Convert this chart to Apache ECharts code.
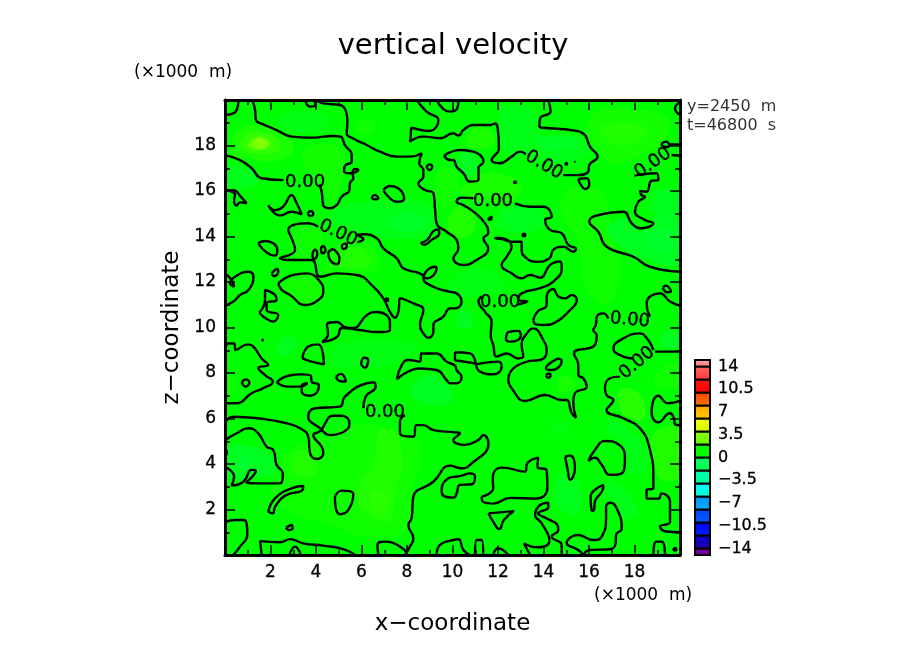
<!DOCTYPE html>
<html>
<head>
<meta charset="utf-8">
<title>vertical velocity</title>
<script src="https://cdn.jsdelivr.net/npm/echarts@6/dist/echarts.min.js"></script>
<style>
html,body{margin:0;padding:0;background:#fff}
#chart{width:904px;height:654px}
</style>
</head>
<body>
<div id="chart"></div>
<script>
// colour bar
var barLow = [-15,-14,-12,-10,-8,-6,-4,-2,0,2,4,6,8,10,12,14];
var barHigh = [-14,-12,-10,-8,-6,-4,-2,0,2,4,6,8,10,12,14,15];
var barColorLow = ['#6a009a','#2a00a0','#0020ff','#0060ff','#00b0ff','#00ffd0','#00ff90','#00ff48','#00ff00','#60ff00','#d0ff00','#ffd000','#ff7800','#ff0000','#ff3838','#ff8080'];
var barColorHigh = ['#7a00a8','#0000d8','#0000ff','#0040ff','#0090ff','#00ffff','#00ffb8','#00ff70','#00ff00','#90ff00','#f8ff00','#ffa000','#ff4000','#ff1010','#ff6868','#ff9c9c'];
var barTicks = [-14,-10.5,-7,-3.5,0,3.5,7,10.5,14];

// filled bands of the field: level of each patch, then its outline (x, z in km)
var patchLevels = [
	0.8,1.4,2,2.6,0.6,0.5,1,0.5,0.6,0.5,0.4,0.8,0.8,1,0.6,1,0.5,
	0.5,1,1.3,1,1.2,1,0.7,0.5,0.5,
	-0.6,-0.8,-0.7,-1.2,-0.6,-0.8,-1,-1.5,-1,-0.7,-1.1,-1,-1,-1.4,-0.8,-0.8,-1,-0.5,-1,-0.7,-0.7,-0.8,-0.5
];
var patchRings = [
	[[0.3,17.6],[1.2,17.4],[2.2,17.3],[3,17.8],[2.8,18.5],[1.6,18.9],[0.5,18.6]],
	[[0.7,17.9],[1.5,17.6],[2.4,17.8],[2.2,18.4],[1.3,18.6],[0.8,18.4]],
	[[1,18],[1.6,17.8],[2,18.1],[1.5,18.4]],
	[[1.3,18],[1.7,17.9],[1.8,18.2],[1.4,18.3]],
	[[3.4,17.8],[4.9,18],[5.3,17.2],[5,16],[4.7,15.5],[4.3,16],[3.6,17]],
	[[4.4,12.3],[5.6,12.2],[6.8,12.7],[6.4,13.6],[5.2,13.8],[4.6,13.2]],
	[[4.9,12.8],[5.6,12.6],[6.4,12.9],[6,13.5],[5.2,13.4]],
	[[2.9,13.2],[4,13.2],[4.2,14.2],[3.2,14.5]],
	[[2.5,11.6],[3.4,11],[4.2,11.3],[4.1,12.1],[3.2,12.3]],
	[[9.2,15.3],[10,15.5],[10.2,16.8],[9.4,17]],
	[[5.8,18.6],[6.4,18.5],[6.6,19],[6,19.1]],
	[[10.6,18],[11.5,17.9],[11.9,18.3],[11.4,18.8],[10.8,18.6]],
	[[10.3,15.8],[12.5,15.5],[13,16.2],[12,16.8],[11,16.6]],
	[[9.9,14],[10.8,14.1],[11,14.8],[10.5,15.4],[9.9,15]],
	[[15.9,18.8],[16.4,19.5],[18,19.6],[19.5,19.2],[19.3,18.2],[18.2,17.5],[17,17.2],[16.5,17.6]],
	[[16.5,18.8],[18,19],[18.5,18.5],[17.3,18]],
	[[15,16],[16.5,16],[17,14.5],[17.4,13],[17.2,11.5],[16.5,11],[15.8,12],[15.5,13.8],[14.8,15]],
	[[2.7,4.5],[4.5,5.3],[6,5.8],[7.6,5.4],[8.6,4.8],[8.2,2.6],[8.1,1.2],[6.2,0.8],[4.5,1.4],[3,1.8],[2,2.6],[2.4,3.6]],
	[[6.4,1.7],[7.2,1.5],[7.5,2.8],[7.8,4],[7.5,5.4],[6.8,5.4],[6.5,4],[5.9,3],[5.9,2.2]],
	[[6.5,1.9],[7,1.9],[7.1,2.6],[6.5,2.8]],
	[[3,3.6],[3.9,3.5],[4,4.2],[3.2,4.6]],
	[[17.3,6.6],[17.4,7.3],[18.2,7.1],[18.5,6.2],[18.2,5.9],[17.6,6.1]],
	[[18.7,5.1],[19.5,5.7],[20,5.5],[20,3.5],[19.2,3.3],[18.8,4.2]],
	[[14.6,7.3],[15.2,7.2],[15.4,7.6],[14.9,7.9]],
	[[0,7],[0.4,7.1],[0.4,7.7],[0,7.9]],
	[[18.9,7.5],[20,7.4],[20,8.3],[19.2,8.3]],
	[[2.3,18.9],[3,18.6],[4.2,18.7],[4.6,19.2],[3.6,19.5],[2.6,19.4]],
	[[0,16.2],[1.4,16.3],[1.2,16.9],[0.4,17.2],[0,17]],
	[[4.6,14.8],[6,14.2],[8,13.9],[9.2,14.1],[9.2,15.2],[8,15.6],[6,15.5],[5,15.3]],
	[[7.2,14.4],[8.6,14.3],[8.8,14.9],[7.6,15]],
	[[4.7,8.4],[6,8.2],[7.5,8.5],[8.5,9.2],[7,9.4],[5,9.2]],
	[[2.3,8.8],[3,8.9],[3.1,9.5],[2.4,9.5]],
	[[0.1,3.5],[1.2,3.4],[2.2,3.6],[2,4.4],[1,4.8],[0.1,4.7]],
	[[0.6,3.9],[1.2,3.9],[1.2,4.3],[0.7,4.4]],
	[[8.1,7.2],[9,6.6],[10,6.8],[9.8,7.5],[8.8,7.9]],
	[[12,18.8],[12.2,19.7],[13.5,19.6],[14,18.4],[15.5,18.4],[16,17.6],[14.5,17.2],[13,17.5],[12.3,17.8]],
	[[13.7,17.9],[15.3,17.9],[15.4,18.3],[14,18.4]],
	[[10.2,17],[10.9,16.7],[11.1,17.4],[10.5,17.7]],
	[[16.8,14.3],[17.6,13.4],[18.8,12.9],[20,12.8],[20,14.5],[19.2,15.2],[18.3,14.2],[17.5,14.8]],
	[[18.6,13.6],[19.6,13.4],[19.7,14.1],[18.9,14.3]],
	[[18.7,15.2],[20,15],[20,16],[19,16]],
	[[12,14.4],[13.8,14.3],[14,15.2],[12.4,15.3]],
	[[10.2,10.1],[10.8,10],[10.8,10.6],[10.3,10.7]],
	[[9.9,11.5],[11.2,11.4],[12.3,11.7],[11.6,12.5],[10.2,12.4]],
	[[19.2,9.2],[19.8,9.1],[19.9,9.7],[19.3,9.8]],
	[[16.8,6],[17.6,5.6],[18.4,4.8],[18.5,3.8],[17.8,3.6],[17.6,4.8],[16.9,5.4]],
	[[16.8,3.2],[17.7,2.8],[18.1,1.8],[17.5,1.6],[16.9,2.4]],
	[[14.6,2.2],[15.5,1.8],[15.6,3],[15,3.6],[14.5,3.2]],
	[[14.4,5.4],[15.1,5.4],[15.1,5.8],[14.5,5.8]]
];

// zero contour, lines that end at the frame or at a label (x, z in km)
var openLines = [
	[[0,19.34],[0.37,19.41],[0.54,19.63],[0.59,20]],
	[[1.2,20],[1.32,19.56],[1.36,19.12],[1.68,18.93],[2.27,18.68],[2.93,18.39],[3.74,18.34],[4.76,18.42],[5.08,18.39],[5.27,18.02],[5.57,17.58],[5.57,17.29],[5.27,17.11],[5.23,16.88],[5.49,16.78],[5.86,16.92],[5.71,16.97],[5.61,16.78],[5.64,16.56],[5.49,16.34],[5.47,16.04],[5.13,15.75],[4.91,15.38],[4.62,15.24],[4.32,15.38],[4.25,15.97],[4.15,16.29]],
	[[2.57,16.48],[1.61,16.56],[1.17,17],[0.66,17.36],[0,17.58]],
	[[3.52,20],[3.74,19.71],[3.96,19.78],[3.96,20]],
	[[4,20],[4.32,19.85],[5.05,19.78],[5.32,19.49],[5.38,19.05],[5.35,18.53],[5.64,18.31],[6.23,18.02],[6.81,17.73],[7.55,17.51],[8.13,17.51],[8.65,17.66],[8.54,17.22],[8.72,16.92],[8.72,16.63],[8.5,16.34],[8.79,16.04],[9.16,15.9],[9.23,15.24],[9.3,14.58],[9.74,14.21],[10.18,13.85],[10.26,13.48],[10.04,13.04],[10.48,12.75],[11.06,12.97],[11.57,13.48],[11.36,13.92],[11.57,14.14],[11.43,14.58],[10.92,15.09],[10.48,15.38],[10.18,15.53],[10.4,15.71],[10.92,15.68]],
	[[12.75,15.46],[13.41,15.31],[14,15.31],[14.36,14.87],[14.07,14.73],[14.29,14.29],[14.8,14.14],[15.09,13.63],[15.43,13.45],[15.31,13.33],[14.87,13.55],[14.43,13.41],[14.26,13.04],[13.7,12.89],[13.26,13.04],[13.04,13.41],[13.04,13.77],[12.6,13.77],[12.16,13.89],[11.87,13.92],[12.01,13.95],[12.6,13.55],[12.38,13.11],[12.16,12.75],[12.6,12.38],[13.04,12.16],[13.41,12.31],[13.85,12.19],[14.29,12.75],[14.73,12.9],[14.8,12.6],[14.43,12.02],[13.85,11.73],[13.04,11.5],[12.89,11.21],[13.29,11.14],[12.89,11.02]],
	[[11.28,11.36],[11.14,11.14],[11.43,10.69],[11.72,10.26],[11.68,9.67],[11.79,9.23],[11.94,8.72],[12.38,8.86],[12.89,8.64],[13.11,8.72],[13.04,9.23],[13.33,9.82],[13.55,9.96],[13.99,9.45],[14.14,8.94],[13.85,8.57],[13.41,8.53],[12.45,7.69],[12.6,7.33],[13.19,6.77],[14.07,7.03],[14.8,6.81],[15.02,6.81],[15.24,6.23],[15.43,6.04],[15.31,6.74],[15.38,7.11],[15.9,7.4],[15.75,7.77],[15.53,7.91],[15.53,8.35],[15.34,8.86],[16.26,9.23],[16.34,9.67],[16.19,9.89],[16.3,10.11],[16.34,10.47],[16.63,10.62],[16.85,10.4]],
	[[20,10.96],[19.56,11.14],[19.12,11.5],[18.68,11.36],[18.53,11.06],[18.68,10.47]],
	[[17.95,8.64],[17.51,8.72],[17.07,9.08],[17.51,9.52],[18.24,9.74],[18.6,9.45],[18.83,9.01]],
	[[18.9,8.94],[20,8.94]],
	[[17.36,7.84],[16.92,7.77],[16.7,7.33],[16.77,7.03],[17.07,6.81],[16.77,6.37],[17.51,6.01],[18.24,5.57],[18.68,4.62],[18.83,3.37],[18.83,2.93],[18.53,2.85],[18.53,2.48],[19.05,2.48],[19.19,2.71],[19.56,2.34],[19.56,1.46],[19.12,1.25],[19.41,1.03],[20,1]],
	[[20,6.77],[19.48,6.67],[19.05,7],[18.75,6.27],[19.05,5.83],[19.56,6.23],[19.73,6.01],[19.78,5.74],[20,5.71]],
	[[13.41,0],[13.14,0.52],[13.73,0.34],[14.26,0.63],[13.92,1.39],[13.63,1.76],[13.85,2.2],[14.21,2.3],[14.21,2.1],[13.77,1.83],[14.14,1.61],[14.61,1.32],[14.65,1.1],[14.36,0.81],[14.8,0.44],[14.8,0]],
	[[15.75,0],[15.53,0.22],[15.02,0.52],[15.53,0.88],[16.19,0.66],[16.56,0.81],[16.75,1.69],[16.75,2.13],[16.95,2.3],[17.22,2.05],[17.44,1.17],[17.19,0.88],[17.17,0.52],[16.92,0.25],[16.04,0.22],[15.75,0]],
	[[5.82,13.74],[6.08,13.89],[5.82,14.07],[6.08,14.1],[6.67,13.92],[6.96,13.48],[7.55,13.04],[7.84,12.6],[8.57,12.38],[8.86,12.16],[9.3,12.6],[9.23,12.67],[8.72,12.16],[9.16,11.79],[9.89,11.57],[10.18,11.5],[10.4,11.14],[10.11,10.84],[9.89,10.84],[9.6,10.48],[9.16,10.11],[9.16,9.82],[8.94,9.55],[8.72,9.74],[8.57,10.11],[8.72,10.77],[8.28,11.06],[7.69,11.28],[7.62,10.69],[7.47,10.43],[7.25,10.69],[6.96,11.28],[6.52,11.8],[5.79,12.31],[4.91,12.38],[4.18,12.23],[3.81,12.97],[3.08,12.97],[2.42,13.04],[3.08,13.41],[2.93,13.92],[2.78,14.28],[3.66,14.58],[4.1,14.43]],
	[[0,16.04],[0.37,16.04],[0.69,15.75],[0.95,15.46],[0.66,15.5],[0.51,15.36],[0.4,15.6],[0.44,15.85],[0.22,15.97]],
	[[0,12.38],[0.29,12.09],[0.4,11.8],[0.22,11.94],[0.44,12.23],[1.03,12.45],[1.25,12.23],[1.03,11.65],[0.66,11.43],[0.37,11.14],[0,10.96]],
	[[8.43,20],[8.86,19.49],[9.38,19.12],[9.3,18.83],[8.94,18.64],[8.2,18.78],[8.16,18.39],[8.13,18.17],[8.72,18.39],[9.45,18.32],[10.04,18.54],[10.26,18.43],[10.48,18.68],[10.92,18.9],[11.65,18.9],[11.87,18.97],[12.01,18.53],[12.04,17.88],[11.72,17.36],[12.09,17.22],[12.6,17.51],[12.97,17.73],[13.23,17.61]],
	[[9.3,20],[9.6,19.6],[9.89,19.49],[10.21,19.63],[10.26,20]],
	[[14.21,20],[14.31,19.49],[13.85,19.19],[13.82,18.83],[14.43,18.75],[15.17,18.68],[15.75,18.53],[16.04,17.95],[16.38,17.51],[16.01,17.14],[15.97,16.85],[15.46,16.7],[14.87,16.7]],
	[[20,19.9],[19.78,19.63],[20,19.34]],
	[[20,18.05],[19.56,18.05],[19.41,18.17],[19.19,18.05],[19.41,17.92],[19.56,18.05]],
	[[20,17.55],[19.63,17.58]],
	[[17.99,16.66],[18.3,16.73],[18.97,16.78],[19.05,16.48],[18.75,16.45],[18.53,15.97],[18.24,16],[18.31,15.82],[18.46,15.75],[18.17,15.53],[18.02,15.09],[18.46,14.73],[18.83,14.58],[18.24,14.36],[17.88,14.58],[17.51,15.09],[16.78,15.02],[16.01,14.65],[16.41,14.21],[16.78,13.55],[17.95,13.11],[18.68,12.67],[20,12.45]],
	[[0,8.97],[0.15,9.3],[0.4,9.3],[0.47,9.01],[1.03,9.26],[1.25,9.16],[1.61,8.64],[1.9,8.35],[1.46,8.23],[1.76,7.91],[2.1,7.62],[1.68,7.33],[1.17,7.11],[0.51,6.67],[0,6.67]],
	[[6.08,6.45],[6.18,6.96],[6.62,7.4],[6.55,7.59],[6.23,7.55],[5.27,6.96],[5.05,6.52],[3.96,6.45],[3.66,6.08],[4.18,5.57],[4.62,5.27],[5.42,5.57],[5.47,5.79],[5.13,6.12],[4.76,6.12],[4.18,5.45],[3.88,5.27],[4.25,4.76],[4.32,4.47],[4.03,4.22],[3.74,4.47],[3.66,5.2],[3.3,5.57],[2.71,5.79],[1.69,5.98],[0.37,6.08],[0,5.83]],
	[[7.91,6.15],[7.69,5.86],[7.69,5.35],[8.28,5.2],[8.42,5.71],[8.72,5.71],[9.16,5.49],[10.11,5.39],[10.33,5.35],[10.04,5.06],[10.55,4.84],[11.14,5.06],[11.36,5.27],[11.58,4.91],[10.77,3.96],[10.4,3.81],[9.89,3.93],[9.16,3.22],[8.28,2.56],[8.2,1.61],[8.06,1.32],[8.28,0.73],[8.13,0.37],[7.91,0]],
	[[6.74,0],[6.7,0.44],[7.11,0.59],[7.69,0.37],[7.99,0.12]],
	[[9.3,0],[9.45,0.44],[10.04,0.66],[10.26,0.69],[10.48,0.22],[10.77,0]],
	[[10.99,0],[11.06,0.66],[11.28,0.66],[11.35,0]],
	[[11.79,0],[12,0.3],[12.45,0]],
	[[18.83,0],[18.95,0.59],[19.2,0.59],[19.34,0]],
	[[0,5.05],[0.51,5.35],[1.03,5.57],[1.46,5.35],[1.83,4.76],[2.12,4.62],[2.27,3.96],[2.54,3.59],[2.42,3.15],[1.69,3.15],[0.95,3.19],[1.36,3.69],[1.17,3.74],[0.81,3.22],[0.29,3.05],[0.4,3.44],[0,3.88]],
	[[0,4.7],[0.08,4.5],[0,4.3]],
	[[0,1.44],[0.44,1.54],[0.83,1.54],[0.98,0.88],[0.66,0.37],[0.37,0]],
	[[1.61,0],[1.54,0.61],[2.42,0.56],[2.86,0.7],[3.44,0.51],[4.32,0.41],[5.2,0.26],[5.72,0]],
	[[2.83,0],[3.08,0.37],[3.33,0]]
];

// zero contour, loops inside the frame
var closedLoops = [
	[[6.96,16.04],[7.25,16.22],[7.84,15.85],[7.87,15.65],[7.55,15.53],[7.18,15.75]],
	[[6.45,15.75],[6.59,15.82],[6.74,15.68],[6.55,15.63]],
	[[8.86,17.07],[8.98,17.17],[9.11,17.07],[8.98,16.92]],
	[[1.9,15.38],[2.2,15.16],[2.56,15.31],[2.93,15.82],[3.12,15.53],[3.37,14.97],[2.93,15.09],[2.42,14.92]],
	[[3.63,15.02],[3.77,15.12],[3.88,14.99],[3.74,14.9]],
	[[1.46,13.7],[1.76,13.8],[2.3,13.41],[2.2,13.16],[1.83,13.3]],
	[[2.05,12.38],[2.3,12.57],[2.34,12.45],[2.15,12.26]],
	[[2.34,11.94],[3,12.31],[3.59,12.38],[4.18,12.01],[4.32,11.58],[4.1,11.21],[3.52,10.99],[2.86,11.43],[2.49,11.65]],
	[[1.51,10.67],[1.76,11.21],[1.76,11.65],[2.2,11.43],[2.27,11.21],[1.83,11.06],[1.83,10.77],[2.34,10.55],[2.12,10.26],[1.68,10.48]],
	[[3.96,13.45],[4.06,13.26],[3.93,13.01],[3.84,13.22]],
	[[4.32,13.6],[4.42,13.41],[4.29,13.26],[4.22,13.45]],
	[[4.76,13.45],[5.03,13.04],[4.91,12.78],[4.62,12.97],[4.54,13.26]],
	[[5.35,13.7],[5.35,13.55],[5.2,13.45],[5.14,13.6]],
	[[8.6,13.73],[8.89,13.85],[9.16,14.24],[9.38,14.31],[9.42,14.14],[9.08,13.85],[8.75,13.63]],
	[[9.63,17.54],[9.89,17.7],[10.33,17.8],[10.77,17.76],[11.21,17.58],[11.36,17.29],[11.14,17],[11.14,16.48],[10.77,16.41],[10.48,16.78],[10.18,17.07],[10.04,17.36],[9.89,17.36]],
	[[15.53,16.53],[15.9,16.56],[16.01,16.26],[15.82,16.09],[15.65,16.26]],
	[[19.24,11.75],[19.38,11.84],[19.6,11.58],[19.44,11.55]],
	[[13.55,10.33],[13.73,10.69],[14.14,10.99],[14.14,11.36],[14.43,11.69],[14.65,11.36],[14.95,11.28],[15.24,11.43],[15.46,11.21],[15.09,10.69],[14.58,10.26],[14.07,10.11],[13.67,10.14]],
	[[4.26,9.36],[4.53,9.71],[4.48,10.11],[4.92,10.24],[5.27,10.02],[5.63,9.98],[6.24,10.55],[6.68,10.68],[7.25,10.24],[7.25,9.89],[6.68,9.8],[5.93,9.89],[5.14,9.98],[4.92,9.58]],
	[[7.55,7.72],[7.77,8.35],[8.06,8.57],[8.57,8.5],[8.64,8.86],[9.3,8.86],[9.74,8.5],[10.11,8.32],[10.18,8.13],[10.4,7.84],[10.18,7.55],[9.89,7.55],[9.74,7.69],[9.3,8.13],[8.57,8.2]],
	[[0.73,7.58],[0.91,7.72],[1.07,7.58],[0.91,7.4]],
	[[3.4,8.64],[3.66,9.16],[4.1,9.26],[4.35,8.38],[3.81,8.5]],
	[[2.27,7.59],[2.78,7.88],[3.37,7.94],[3.77,7.88],[3.81,7.62],[4.13,7.47],[4.06,7.18],[3.74,7],[3.37,7.21],[3.37,7.44],[3.62,7.55],[3.3,7.4],[2.78,7.4]],
	[[4.88,7.84],[5.1,7.96],[5.32,7.62],[5.03,7.65]],
	[[5.98,8.38],[6.11,8.67],[6.29,8.57],[6.15,8.23]],
	[[10.11,3.44],[9.82,3.37],[9.52,2.86],[9.6,2.61],[10.04,2.52],[10.18,2.71],[10.33,3.08],[10.84,3.11],[10.99,3.44],[10.77,3.59],[10.4,3.49]],
	[[1.9,1.9],[2.2,2.49],[2.93,2.93],[3.44,3.03],[3.41,2.86],[2.64,2.61],[2.2,2.12],[2.1,1.83]],
	[[4.83,2.56],[5.13,2.83],[5.64,2.67],[5.42,1.98],[5.05,1.79],[4.86,2.12]],
	[[2.68,1.2],[2.93,1.32],[2.97,1.17],[2.79,1.1]],
	[[10.11,8.91],[10.77,8.86],[11.02,8.42],[10.33,8.53],[10.11,8.57]],
	[[11.03,8.38],[12.01,8.5],[12.16,8.28],[11.79,7.94],[11.21,8.06]],
	[[12.41,9.79],[12.89,9.85],[13,9.64],[12.6,9.38],[12.35,9.5]],
	[[14.65,8.64],[14.8,8.53],[14.36,8.13],[14.11,8.2]],
	[[14.11,7.91],[14.24,7.98],[14.31,7.88],[14.2,7.79]],
	[[15.97,4.13],[16.26,4.62],[16.7,5.01],[17.29,4.87],[17.58,4.25],[17.51,3.66],[16.92,3.52],[16.56,3.96],[16.26,4.28]],
	[[14.95,4.32],[15.17,4.37],[15.38,3.81],[15.17,3.3],[15.05,3.81]],
	[[16.12,1.93],[16.07,2.49],[16.19,2.81],[16.63,3.08],[16.6,2.86],[16.26,2.35],[16.22,1.98]],
	[[11.28,2.56],[11.79,2.93],[11.77,3.37],[12.16,3.84],[13.19,3.66],[13.29,4.03],[13.77,4.28],[13.73,3.88],[14.14,3.71],[14.17,2.93],[13.63,2.48],[12.53,2.51],[11.79,2.26],[11.36,2.33]],
	[[11.58,1.83],[12.7,1.93],[12.26,1.54],[12.06,1.14],[11.79,1.46]],
	[[11.55,14.74],[11.72,14.88],[11.68,14.74]]
];

// very small closed contours
var contourDots = [[12.75,16.38],[13.14,14.07],[7.11,11.22],[1.66,9.45],[15.38,17.29],[15,17.2],[19.78,0.25]];
var contourDotSizes = [4,5,5,3,2,4,5];

// contour labels
var contourLabelPoints = [[3.52,16.4],[4.97,14.15],[14.02,17.14],[11.78,15.56],[18.81,17.23],[12.09,11.12],[17.8,10.33],[18.11,8.44],[7.03,6.29]];
var contourLabelAngles = [0,-25,-30,0,35,0,-5,40,0];

var xTicks = [2,4,6,8,10,12,14,16,18];
var textFont = 'DejaVu Sans';

function bandColor(level) {
	var c = Math.round(Math.abs(level) * (level > 1.5 ? 50 : 32));
	return level > 0 ? 'rgb(' + c + ',255,0)' : 'rgb(0,255,' + c + ')';
}

function renderPatch(params, api) {
	var ring = patchRings[api.value(0)];
	return {
		type: 'polygon',
		shape: { points: ring.map(function(p) { return api.coord(p); }), smooth: 0.4 },
		style: { fill: bandColor(patchLevels[api.value(0)]) }
	};
}

function renderBarCell(params, api) {
	var i = api.value(0);
	var a = api.coord([0, barHigh[i]]);
	var b = api.coord([1, barLow[i]]);
	return {
		type: 'rect',
		shape: { x: a[0], y: a[1], width: b[0] - a[0], height: b[1] - a[1] },
		style: {
			fill: new echarts.graphic.LinearGradient(0, 0, 0, 1, [
				{ offset: 0, color: barColorHigh[i] },
				{ offset: 1, color: barColorLow[i] }
			]),
			stroke: '#000',
			lineWidth: 2
		}
	};
}

function frameAxis(pos, showLabels) {
	return {
		type: 'value', gridIndex: 0, position: pos, min: 0, max: 20, interval: 2, z: 5,
		splitLine: { show: false },
		axisLine: { show: true, onZero: false, lineStyle: { color: '#000', width: 3 } },
		axisTick: { show: true, inside: true, length: 10, lineStyle: { color: '#000', width: 1.5 } },
		minorTick: { show: true, splitNumber: 2, length: 5, lineStyle: { color: '#000', width: 1.5 } },
		axisLabel: {
			show: showLabels, margin: 9, customValues: xTicks,
			color: '#000', fontFamily: textFont, fontSize: 17,
			textBorderColor: '#000', textBorderWidth: 0.3
		}
	};
}

var xBottom = frameAxis('bottom', true);
xBottom.name = 'x\u2212coordinate';
xBottom.nameLocation = 'middle';
xBottom.nameGap = 58;
xBottom.nameTextStyle = { color: '#000', fontFamily: textFont, fontSize: 23 };
var yLeft = frameAxis('left', true);
yLeft.name = 'z\u2212coordinate';
yLeft.nameLocation = 'middle';
yLeft.nameGap = 41;
yLeft.nameTextStyle = { color: '#000', fontFamily: textFont, fontSize: 23 };

var series = [{
	type: 'custom',
	xAxisIndex: 0, yAxisIndex: 0,
	renderItem: renderPatch,
	data: patchRings.map(function(r, i) { return [i]; }),
	encode: { x: [], y: [] },
	clip: true, silent: true, z: 1
}];

openLines.concat(closedLoops.map(function(l) { return l.concat([l[0]]); })).forEach(function(pts) {
	series.push({
		type: 'line', xAxisIndex: 0, yAxisIndex: 0,
		data: pts, showSymbol: false, smooth: 0.5,
		lineStyle: { color: '#000', width: 2.4 },
		clip: true, silent: true, z: 3, animation: false
	});
});

series.push({
	type: 'scatter', xAxisIndex: 0, yAxisIndex: 0,
	data: contourDots.map(function(p, i) { return { value: p, symbolSize: contourDotSizes[i] }; }),
	itemStyle: { color: '#000', opacity: 1 }, silent: true, z: 3
});

series.push({
	type: 'scatter', xAxisIndex: 0, yAxisIndex: 0,
	symbolSize: 0,
	data: contourLabelPoints.map(function(p, i) {
		return { value: p, label: { rotate: contourLabelAngles[i] } };
	}),
	itemStyle: { opacity: 1 },
	label: {
		show: true, position: 'inside', formatter: '0.00',
		color: '#000', fontFamily: textFont, fontSize: 18,
		textBorderColor: '#000', textBorderWidth: 0.4
	},
	silent: true, z: 4
});

series.push({
	type: 'custom',
	xAxisIndex: 2, yAxisIndex: 2,
	renderItem: renderBarCell,
	data: barLow.map(function(v, i) { return [i]; }),
	encode: { x: [], y: [] },
	silent: true, z: 2
});

var option = {
	animation: false,
	title: {
		text: 'vertical velocity', left: 448, top: 27, textAlign: 'center',
		textStyle: { color: '#000', fontFamily: textFont, fontWeight: 'normal', fontSize: 29 }
	},
	grid: [
		{ left: 225, top: 100, width: 455, height: 455, show: true, backgroundColor: '#00ff00', borderWidth: 0 },
		{ left: 695, top: 360, width: 15, height: 195 }
	],
	xAxis: [
		xBottom,
		frameAxis('top', false),
		{
			type: 'value', gridIndex: 1, min: 0, max: 1, show: false
		}
	],
	yAxis: [
		yLeft,
		frameAxis('right', false),
		{
			type: 'value', gridIndex: 1, position: 'right', min: -15, max: 15,
			splitLine: { show: false },
			axisLine: { show: false },
			axisTick: { show: false },
			axisLabel: {
				customValues: barTicks, margin: 8, color: '#000', fontFamily: textFont, fontSize: 16,
				textBorderColor: '#000', textBorderWidth: 0.3,
				formatter: function(v) { return String(v).replace('-', '\u2212'); }
			}
		}
	],
	graphic: [
		{ type: 'text', left: 134, top: 64, style: { text: '(\u00d71000  m)', fill: '#000', font: '17px "DejaVu Sans"' } },
		{ type: 'text', left: 594, top: 587, style: { text: '(\u00d71000  m)', fill: '#000', font: '17px "DejaVu Sans"' } },
		{ type: 'text', left: 687, top: 99, style: { text: 'y=2450  m', fill: '#333', font: '16px "DejaVu Sans"' } },
		{ type: 'text', left: 687, top: 118, style: { text: 't=46800  s', fill: '#333', font: '16px "DejaVu Sans"' } }
	],
	series: series
};

var myChart = echarts.init(document.getElementById('chart'));
myChart.setOption(option);
</script>
</body>
</html>
